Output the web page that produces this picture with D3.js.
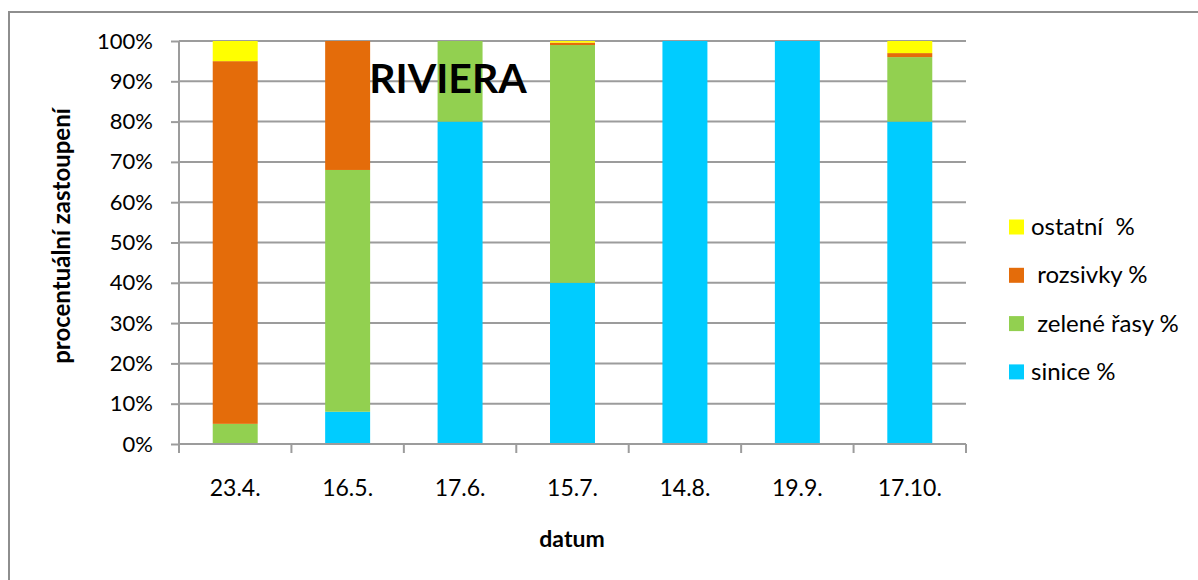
<!DOCTYPE html>
<html>
<head>
<meta charset="utf-8">
<script src="https://cdn.jsdelivr.net/npm/d3@7"></script>
<style>
  html, body { margin: 0; padding: 0; background: #fff; }
  svg { display: block; font-family: Lato, "Open Sans", sans-serif; }
</style>
</head>
<body>
<svg id="chart" width="1198" height="580"></svg>
<script>
// Sampling dates
const dates = ["23.4.", "16.5.", "17.6.", "15.7.", "14.8.", "19.9.", "17.10."];

// Share of each algal group per sample (percent)
const sinice   = [0, 8, 80, 40, 100, 100, 80];
const zelene   = [5, 60, 20, 59, 0, 0, 16];
const rozsivky = [90, 32, 0, 0.6, 0, 0, 1];
const ostatni  = [5, 0, 0, 0.4, 0, 0, 3];

const seriesKeys   = ["sinice", "zelene", "rozsivky", "ostatni"];
const seriesLabels = ["sinice %", "\u00a0zelené řasy %", "\u00a0rozsivky %", "ostatní \u00a0%"];
const seriesColors = ["#00CCFF", "#92D050", "#E46C0A", "#FFFF00"];

const yTicks = [0, 10, 20, 30, 40, 50, 60, 70, 80, 90, 100];

const rows = dates.map((d, i) => ({
  date: d, sinice: sinice[i], zelene: zelene[i], rozsivky: rozsivky[i], ostatni: ostatni[i]
}));

const svg = d3.select("#chart");
const plot = { left: 179, right: 966, top: 41, bottom: 444 };

const x = d3.scaleBand().domain(dates).range([plot.left, plot.right]).paddingInner(0.6).paddingOuter(0.3);
const xEdges = d3.scaleBand().domain(dates).range([plot.left, plot.right]);
const y = d3.scaleLinear().domain([0, 100]).range([plot.bottom, plot.top]);

const gridColor = "#9c9c9c";

// Chart frame (top and left edges)
svg.append("path")
  .attr("d", "M9,580 L9,12 L1198,12")
  .attr("fill", "none").attr("stroke", "#8e8e8e").attr("stroke-width", 2);

// Horizontal gridlines
svg.append("g").selectAll("line").data(yTicks.filter(t => t > 0)).join("line")
  .attr("x1", plot.left).attr("x2", plot.right)
  .attr("y1", d => y(d)).attr("y2", d => y(d))
  .attr("stroke", gridColor).attr("stroke-width", 2);

// Stacked bars
const stack = d3.stack().keys(seriesKeys)(rows);
svg.append("g").selectAll("g").data(stack).join("g")
  .attr("fill", (d, i) => seriesColors[i])
  .selectAll("rect").data(d => d).join("rect")
  .attr("x", d => x(d.data.date))
  .attr("width", x.bandwidth())
  .attr("y", d => y(d[1]))
  .attr("height", d => y(d[0]) - y(d[1]));

// Y axis
const yAxis = svg.append("g").attr("transform", `translate(${plot.left},0)`)
  .call(d3.axisLeft(y).tickValues(yTicks).tickFormat(d => d + "%").tickSize(8).tickSizeOuter(0).tickPadding(18));
yAxis.select(".domain").attr("stroke", gridColor).attr("stroke-width", 2)
  .attr("d", `M0,${plot.top}V${plot.bottom + 9}`);
yAxis.selectAll(".tick line").attr("stroke", gridColor).attr("stroke-width", 2);
yAxis.selectAll(".tick text").attr("font-size", 22).attr("fill", "#000")
  .attr("font-family", "Lato, sans-serif");

// X axis with tick marks between categories
const xg = svg.append("g").attr("transform", `translate(0,${plot.bottom})`);
xg.append("line").attr("x1", plot.left).attr("x2", plot.right)
  .attr("stroke", gridColor).attr("stroke-width", 2);
const edges = dates.map(d => xEdges(d)).concat([plot.right]);
xg.selectAll("line.tk").data(edges).join("line").attr("class", "tk")
  .attr("x1", d => d).attr("x2", d => d).attr("y1", 0).attr("y2", 9)
  .attr("stroke", gridColor).attr("stroke-width", 2);
xg.selectAll("text").data(dates).join("text")
  .attr("x", d => x(d) + x.bandwidth() / 2).attr("y", 52)
  .attr("text-anchor", "middle").attr("font-size", 23).attr("fill", "#000")
  .text(d => d);

// Axis titles
svg.append("text")
  .attr("transform", "translate(70,236) rotate(-90)")
  .attr("text-anchor", "middle").attr("font-size", 24).attr("font-weight", "bold")
  .text("procentuální zastoupení");
svg.append("text")
  .attr("x", 572).attr("y", 547).attr("text-anchor", "middle")
  .attr("font-size", 23).attr("font-weight", "bold").text("datum");

// Title
svg.append("text")
  .attr("x", 448).attr("y", 93).attr("text-anchor", "middle")
  .attr("font-size", 41).attr("font-weight", "bold").text("RIVIERA");

// Legend (top entry is the top of the stack)
const legendOrder = [3, 2, 1, 0];
const lg = svg.append("g").selectAll("g").data(legendOrder).join("g")
  .attr("transform", (d, i) => `translate(1009,${227 + i * 48.3})`);
lg.append("rect").attr("x", 0).attr("y", -7.5).attr("width", 15).attr("height", 15)
  .attr("fill", d => seriesColors[d]);
lg.append("text").attr("x", 22).attr("y", 8).attr("font-size", 24)
  .text(d => seriesLabels[d]);
</script>
</body>
</html>
